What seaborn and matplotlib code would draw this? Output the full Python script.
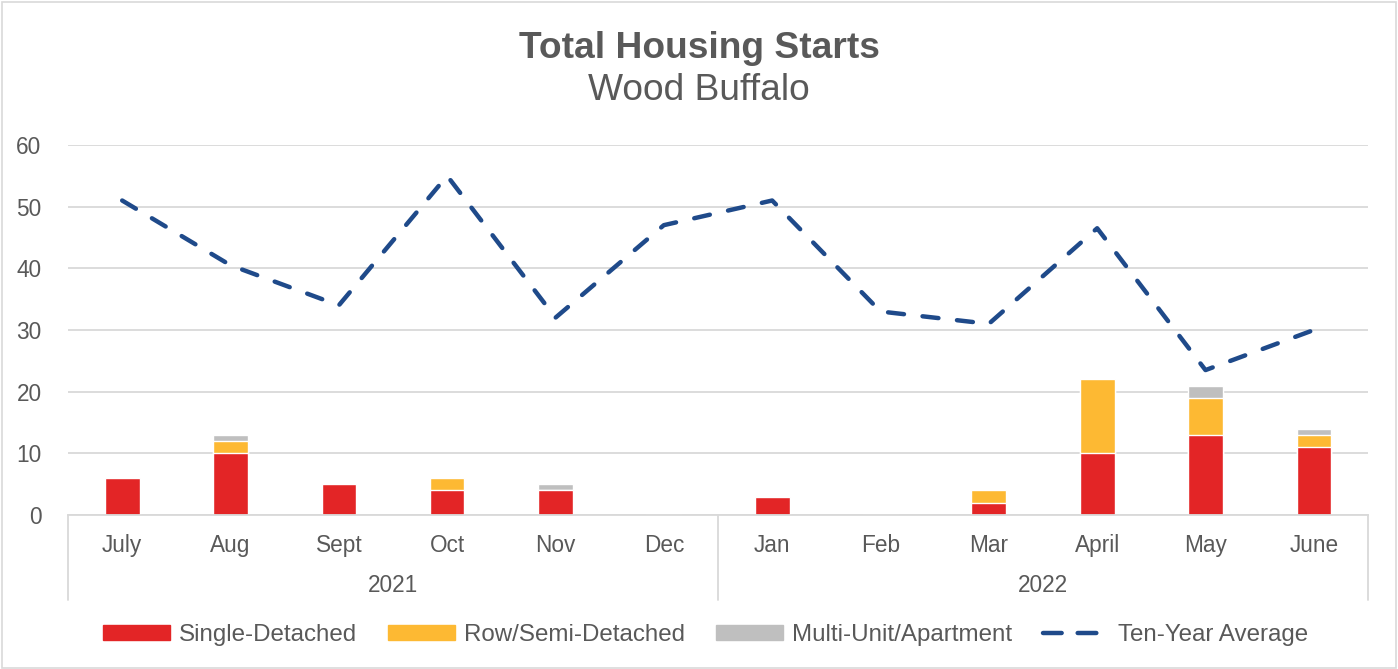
import matplotlib
matplotlib.use("Agg")
import matplotlib.pyplot as plt
import matplotlib.transforms as mtransforms
from matplotlib.lines import Line2D
from matplotlib.patches import Patch, Rectangle
import numpy as np
import pandas as pd
import seaborn as sns

# values
months = ['July', 'Aug', 'Sept', 'Oct', 'Nov', 'Dec',
          'Jan', 'Feb', 'Mar', 'April', 'May', 'June']
years = ['2021', '2022']
months_per_year = [6, 6]
single = [6, 10, 5, 4, 4, 0, 3, 0, 2, 10, 13, 11]
row_semi = [0, 2, 0, 2, 0, 0, 0, 0, 2, 12, 6, 2]
multi = [0, 1, 0, 0, 1, 0, 0, 0, 0, 0, 2, 1]
ten_year_avg = [51, 40.5, 34, 55, 32, 47, 51, 33, 31, 46.5, 23.5, 30]

RED = '#E32526'
ORANGE = '#FDB933'
GRAY = '#BFBFBF'
NAVY = '#1F4A8A'
TXT = '#595959'
GRID = '#D9D9D9'

sns.set_style('white')
plt.rcParams['font.family'] = ['Liberation Sans', 'DejaVu Sans']

df = pd.DataFrame({'month': months, 'single': single, 'row': row_semi, 'multi': multi,
                   'avg': ten_year_avg})
df['sr'] = df['single'] + df['row']
df['total'] = df['sr'] + df['multi']

fig = plt.figure(figsize=(13.98, 6.69), dpi=100)
ax = fig.add_axes([68 / 1398, 1 - 515 / 669, 1300 / 1398, 370 / 669])

# stacked bars drawn back to front from cumulative sums
for col, c in [('total', GRAY), ('sr', ORANGE), ('single', RED)]:
    sns.barplot(data=df, x='month', y=col, color=c, saturation=1, width=0.32,
                ax=ax, zorder=2)

sns.lineplot(x=np.arange(len(months)), y=df['avg'], ax=ax, color=NAVY, lw=3.2,
             zorder=3)
ln = ax.lines[-1]
ln.set_dashes([3.6, 4.2])
ln.set_dash_capstyle('round')

ax.set_xlim(-0.5, len(months) - 0.5)
ax.set_ylim(0, 60)
ax.set_yticks(range(0, 61, 10))
ax.yaxis.grid(True, color=GRID, lw=1.3, zorder=0)
ax.set_axisbelow(True)
for s in ['top', 'right', 'left']:
    ax.spines[s].set_visible(False)
ax.spines['bottom'].set_color(GRID)
ax.spines['bottom'].set_linewidth(1.3)
ax.set_xlabel('')
ax.set_ylabel('')
ax.tick_params(axis='both', length=0, labelsize=16.3, labelcolor=TXT)
ax.tick_params(axis='y', pad=19)
ax.tick_params(axis='x', pad=14)

# second category level: years with separators
trans = mtransforms.blended_transform_factory(ax.transData, ax.transAxes)
start = -0.5
bounds = [start]
for yr, n in zip(years, months_per_year):
    ax.text(start + n / 2, -0.19, yr, transform=trans, ha='center', va='center',
            fontsize=16.3, color=TXT)
    start += n
    bounds.append(start)
for b in bounds:
    ax.add_line(Line2D([b, b], [0, -0.23], transform=trans, color=GRID, lw=1.3,
                       clip_on=False))

handles = [Patch(color=RED), Patch(color=ORANGE), Patch(color=GRAY),
           Line2D([], [], color=NAVY, lw=3.2, dashes=[4.2, 3.6], dash_capstyle='round')]
labels = ['Single-Detached', 'Row/Semi-Detached', 'Multi-Unit/Apartment', 'Ten-Year Average']
fig.legend(handles, labels, loc='center', bbox_to_anchor=(0.5 + 7 / 1398, 1 - 635 / 669),
           ncol=4, frameon=False, fontsize=17.4, labelcolor=TXT, handlelength=2.77,
           handleheight=0.55, handletextpad=0.35, columnspacing=1.3)

fig.text(0.5, 1 - 48 / 669, 'Total Housing Starts', ha='center', va='center',
         fontsize=26.7, fontweight='bold', color=TXT)
fig.text(0.5, 1 - 91 / 669, 'Wood Buffalo', ha='center', va='center',
         fontsize=26.7, color=TXT)

fig.add_artist(Rectangle((0.0015, 0.002), 0.997, 0.995, transform=fig.transFigure,
                         fill=False, edgecolor=GRID, lw=1.2))

fig.savefig('out.png', dpi=100)
